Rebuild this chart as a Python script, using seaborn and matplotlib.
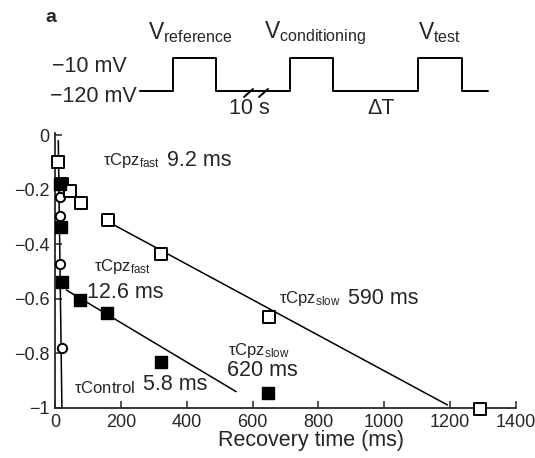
import matplotlib
matplotlib.use("Agg")
import matplotlib.pyplot as plt
import seaborn as sns
import pandas as pd

# ---------------- data ----------------
open_sq_x = [10, 20, 46, 79, 160, 323, 651, 1290]
open_sq_y = [-0.10, -0.18, -0.205, -0.25, -0.31, -0.435, -0.665, -1.005]

filled_sq_x = [15, 17, 22, 77, 158, 323, 648]
filled_sq_y = [-0.18, -0.335, -0.538, -0.605, -0.65, -0.83, -0.945]

circle_x = [15, 15, 15, 20]
circle_y = [-0.225, -0.297, -0.472, -0.78]

# fitted lines (end points)
fit_slow_open_x = [176, 1192]
fit_slow_open_y = [-0.327, -0.989]
fit_slow_filled_x = [35, 550]
fit_slow_filled_y = [-0.568, -0.94]
fit_control_x = [10, 21]
fit_control_y = [-0.02, -1.0]

xticks = [0, 200, 400, 600, 800, 1000, 1200, 1400]
yticks = [-1, -0.8, -0.6, -0.4, -0.2, 0]
ytick_labels = ["\u22121", "\u22120.8", "\u22120.6", "\u22120.4", "\u22120.2", "0"]

# pulse protocol (time in arbitrary units, voltage in mV)
pulse_t = [140, 173, 173, 216, 216, 290, 290, 333, 333, 418, 418, 462, 462, 488]
pulse_v = [-120, -120, -10, -10, -120, -120, -10, -10, -120, -120, -10, -10, -120, -120]

# ---------------- style ----------------
sns.set_style("ticks")
plt.rcParams["font.family"] = ["Liberation Sans", "DejaVu Sans"]
plt.rcParams["mathtext.fontset"] = "custom"
plt.rcParams["mathtext.rm"] = "Liberation Sans"
plt.rcParams["mathtext.it"] = "Liberation Sans:italic"
plt.rcParams["mathtext.bf"] = "Liberation Sans:bold"

W, H = 535, 458
fig = plt.figure(figsize=(W / 100, H / 100), dpi=100)


def fx(px):
    return px / W


def fy(py):
    return 1 - py / H


# ---------------- main axes ----------------
ax = fig.add_axes([fx(55), fy(408), fx(516) - fx(55), fy(133) - fy(408)])

df_fit1 = pd.DataFrame({"x": fit_slow_open_x, "y": fit_slow_open_y})
df_fit2 = pd.DataFrame({"x": fit_slow_filled_x, "y": fit_slow_filled_y})
df_fit3 = pd.DataFrame({"x": fit_control_x, "y": fit_control_y})
for d in (df_fit1, df_fit2, df_fit3):
    sns.lineplot(data=d, x="x", y="y", ax=ax, color="black", lw=1.1,
                 sort=False, clip_on=False)

sns.scatterplot(x=circle_x, y=circle_y, ax=ax, marker="o", s=45,
                facecolor="white", edgecolor="black", linewidth=1.4,
                clip_on=False, zorder=3)
sns.scatterplot(x=open_sq_x, y=open_sq_y, ax=ax, marker="s", s=64,
                facecolor="white", edgecolor="black", linewidth=1.4,
                clip_on=False, zorder=4)
sns.scatterplot(x=filled_sq_x, y=filled_sq_y, ax=ax, marker="s", s=64,
                facecolor="black", edgecolor="black", linewidth=1.0,
                clip_on=False, zorder=5)

ax.set_xlim(0, 1400)
ax.set_ylim(-1.0, 0.008)
ax.set_xticks(xticks)
ax.set_xticklabels([str(t) for t in xticks])
ax.set_yticks(yticks)
ax.set_yticklabels(ytick_labels)
ax.tick_params(direction="in", length=5, width=1.1, labelsize=13, pad=4)
sns.despine(ax=ax)
for s in ("left", "bottom"):
    ax.spines[s].set_linewidth(1.3)
ax.set_xlabel("Recovery time (ms)", fontsize=15.5)
ax.set_ylabel("")
ax.xaxis.set_label_coords((311 - 55) / 461, -0.08)

# annotations
sub_fs = 12
num_fs = 15.5
fig.text(fx(103), fy(161), r"$\mathregular{\tau Cpz_{fast}}$", fontsize=sub_fs,
         va="center", ha="left")
fig.text(fx(167), fy(161), "9.2 ms", fontsize=num_fs, va="center", ha="left")

fig.text(fx(94), fy(266), r"$\mathregular{\tau Cpz_{fast}}$", fontsize=sub_fs,
         va="center", ha="left")
fig.text(fx(87), fy(293), "12.6 ms", fontsize=num_fs, va="center", ha="left")

fig.text(fx(74), fy(388), r"$\mathregular{\tau Control}$", fontsize=sub_fs,
         va="center", ha="left")
fig.text(fx(143), fy(385), "5.8 ms", fontsize=num_fs, va="center", ha="left")

fig.text(fx(279), fy(299), r"$\mathregular{\tau Cpz_{slow}}$", fontsize=sub_fs,
         va="center", ha="left")
fig.text(fx(348), fy(299), "590 ms", fontsize=num_fs, va="center", ha="left")

fig.text(fx(228), fy(350), r"$\mathregular{\tau Cpz_{slow}}$", fontsize=sub_fs,
         va="center", ha="left")
fig.text(fx(227), fy(371), "620 ms", fontsize=num_fs, va="center", ha="left")

# ---------------- pulse protocol axes ----------------
# -120 mV at y=91 px, -10 mV at y=58 px
top_ax = fig.add_axes([0, fy(110), 1, fy(40) - fy(110)])
top_ax.set_xlim(0, W)
top_ax.set_ylim(-120 - 19 * 110 / 33, -10 + 18 * 110 / 33)
top_ax.axis("off")
df_p = pd.DataFrame({"t": pulse_t, "v": pulse_v})
sns.lineplot(data=df_p, x="t", y="v", ax=top_ax, color="black", lw=1.4,
             sort=False, estimator=None)
# break marks
for x0 in (244, 259):
    top_ax.plot([x0, x0 + 9], [-120 - 6 * 110 / 33, -120 + 2 * 110 / 33],
                color="black", lw=1.4)
top_ax.set_xlabel("")
top_ax.set_ylabel("")

fig.text(fx(45), fy(17), "a", fontsize=14, fontweight="bold", va="center", ha="left")
fig.text(fx(127), fy(67), "\u221210 mV", fontsize=15.5, va="center", ha="right")
fig.text(fx(137), fy(96), "\u2212120 mV", fontsize=15.5, va="center", ha="right")
fig.text(fx(148), fy(33), r"$\mathregular{V_{reference}}$", fontsize=16.5, va="center", ha="left")
fig.text(fx(264), fy(33), r"$\mathregular{V_{conditioning}}$", fontsize=16.5, va="center", ha="left")
fig.text(fx(418), fy(33), r"$\mathregular{V_{test}}$", fontsize=16.5, va="center", ha="left")
fig.text(fx(249), fy(108), "10 s", fontsize=15.5, va="center", ha="center")
fig.text(fx(381), fy(108), "\u0394T", fontsize=15.5, va="center", ha="center")

fig.savefig("out.png", dpi=100)
